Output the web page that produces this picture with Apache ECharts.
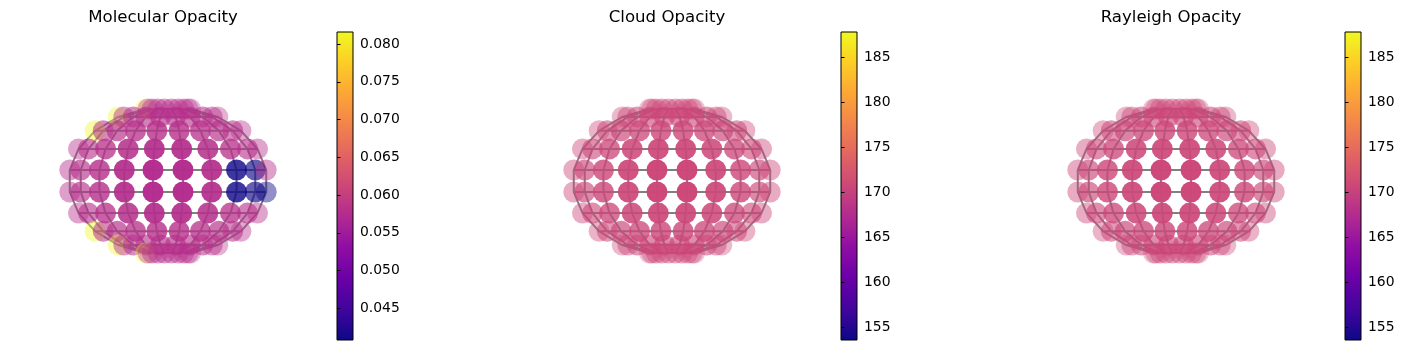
<!DOCTYPE html>
<html>
<head>
<meta charset="utf-8">
<script src="https://cdn.jsdelivr.net/npm/echarts@6/dist/echarts.min.js"></script>
<style>
html,body{margin:0;padding:0;background:#fff;}
#chart{width:1406px;height:350px;}
</style>
</head>
<body>
<div id="chart"></div>
<script>
// ---- data ----
const titles = ['Molecular Opacity', 'Cloud Opacity', 'Rayleigh Opacity'];
// sin(latitude) of each row (top to bottom) and longitude nodes of each column (left to right)
const latNodes = [0.9739, 0.8651, 0.6794, 0.4334, 0.1489, -0.1489, -0.4334, -0.6794, -0.8651, -0.9739];
const lonNodes = [-0.9739, -0.8651, -0.6794, -0.4334, -0.1489, 0.1489, 0.4334, 0.6794, 0.8651, 0.9739];

const molecularValues = [
  [0.0815, 0.0580, 0.0580, 0.0580, 0.0580, 0.0580, 0.0580, 0.0580, 0.0580, 0.0580],
  [0.0815, 0.0580, 0.0580, 0.0580, 0.0580, 0.0580, 0.0580, 0.0580, 0.0580, 0.0580],
  [0.0815, 0.0580, 0.0580, 0.0580, 0.0580, 0.0580, 0.0580, 0.0580, 0.0580, 0.0580],
  [0.0580, 0.0580, 0.0580, 0.0578, 0.0576, 0.0576, 0.0578, 0.0580, 0.0580, 0.0580],
  [0.0580, 0.0580, 0.0578, 0.0576, 0.0575, 0.0575, 0.0576, 0.0410, 0.0410, 0.0580],
  [0.0580, 0.0580, 0.0578, 0.0576, 0.0575, 0.0575, 0.0576, 0.0410, 0.0410, 0.0410],
  [0.0580, 0.0580, 0.0580, 0.0578, 0.0576, 0.0576, 0.0578, 0.0580, 0.0580, 0.0580],
  [0.0815, 0.0580, 0.0580, 0.0580, 0.0580, 0.0580, 0.0580, 0.0580, 0.0580, 0.0580],
  [0.0815, 0.0580, 0.0580, 0.0580, 0.0580, 0.0580, 0.0580, 0.0580, 0.0580, 0.0580],
  [0.0815, 0.0580, 0.0580, 0.0580, 0.0580, 0.0580, 0.0580, 0.0580, 0.0580, 0.0580]
];
const cloudValues = [
  [170.7, 170.7, 170.7, 170.7, 170.7, 170.7, 170.7, 170.7, 170.7, 170.7],
  [170.7, 170.7, 170.7, 170.7, 170.7, 170.7, 170.7, 170.7, 170.7, 170.7],
  [170.7, 170.7, 170.7, 170.7, 170.7, 170.7, 170.7, 170.7, 170.7, 170.7],
  [170.7, 170.7, 170.7, 170.7, 170.7, 170.7, 170.7, 170.7, 170.7, 170.7],
  [170.7, 170.7, 170.7, 170.7, 170.7, 170.7, 170.7, 170.7, 170.7, 170.7],
  [170.7, 170.7, 170.7, 170.7, 170.7, 170.7, 170.7, 170.7, 170.7, 170.7],
  [170.7, 170.7, 170.7, 170.7, 170.7, 170.7, 170.7, 170.7, 170.7, 170.7],
  [170.7, 170.7, 170.7, 170.7, 170.7, 170.7, 170.7, 170.7, 170.7, 170.7],
  [170.7, 170.7, 170.7, 170.7, 170.7, 170.7, 170.7, 170.7, 170.7, 170.7],
  [170.7, 170.7, 170.7, 170.7, 170.7, 170.7, 170.7, 170.7, 170.7, 170.7]
];
const rayleighValues = [
  [170.7, 170.7, 170.7, 170.7, 170.7, 170.7, 170.7, 170.7, 170.7, 170.7],
  [170.7, 170.7, 170.7, 170.7, 170.7, 170.7, 170.7, 170.7, 170.7, 170.7],
  [170.7, 170.7, 170.7, 170.7, 170.7, 170.7, 170.7, 170.7, 170.7, 170.7],
  [170.7, 170.7, 170.7, 170.7, 170.7, 170.7, 170.7, 170.7, 170.7, 170.7],
  [170.7, 170.7, 170.7, 170.7, 170.7, 170.7, 170.7, 170.7, 170.7, 170.7],
  [170.7, 170.7, 170.7, 170.7, 170.7, 170.7, 170.7, 170.7, 170.7, 170.7],
  [170.7, 170.7, 170.7, 170.7, 170.7, 170.7, 170.7, 170.7, 170.7, 170.7],
  [170.7, 170.7, 170.7, 170.7, 170.7, 170.7, 170.7, 170.7, 170.7, 170.7],
  [170.7, 170.7, 170.7, 170.7, 170.7, 170.7, 170.7, 170.7, 170.7, 170.7],
  [170.7, 170.7, 170.7, 170.7, 170.7, 170.7, 170.7, 170.7, 170.7, 170.7]
];
const colorbarMin = [0.0408, 153.56, 153.56];
const colorbarMax = [0.0816, 187.78, 187.78];
const molecularTicks = [0.045, 0.050, 0.055, 0.060, 0.065, 0.070, 0.075, 0.080];
const cloudTicks = [155, 160, 165, 170, 175, 180, 185];
const rayleighTicks = [155, 160, 165, 170, 175, 180, 185];

// ---- styling ----
const plasma = ['#0d0887','#41049d','#6a00a8','#8f0da4','#b12a90','#cc4778','#e16462','#f2844b','#fca636','#fcce25','#f0f921'];
const panelValues = [molecularValues, cloudValues, rayleighValues];
const panelTicks = [molecularTicks, cloudTicks, rayleighTicks];
const tickFmt = [v => v.toFixed(3), v => String(Math.round(v)), v => String(Math.round(v))];
const FONT = 'DejaVu Sans';
const panelStep = 504;
const cx0 = 168, cy = 181, sx = 102, sy = 74, range = 1.1;

const chart = echarts.init(document.getElementById('chart'), null, {renderer: 'canvas'});

const option = {
  animation: false,
  backgroundColor: '#fff',
  title: [], grid: [], xAxis: [], yAxis: [], series: [], visualMap: []
};

for (let p = 0; p < 3; p++) {
  const cx = cx0 + panelStep * p;
  option.title.push({
    text: titles[p], left: 163 + 504 * p, top: 9, textAlign: 'center', padding: 0,
    textStyle: {fontFamily: FONT, fontSize: 16.6, fontWeight: 'normal', color: '#000'}
  });
  // scatter grid
  option.grid.push({left: cx - sx * range, top: cy - sy * range, width: 2 * sx * range, height: 2 * sy * range, show: false});
  const g = option.grid.length - 1;
  option.xAxis.push({type: 'value', gridIndex: g, min: -range, max: range, show: false});
  option.yAxis.push({type: 'value', gridIndex: g, min: -range, max: range, show: false});

  const pts = [];
  const lines = [];
  for (let i = 0; i < latNodes.length; i++) {
    const y = latNodes[i];
    const c = Math.sqrt(1 - y * y);
    const row = [];
    for (let j = 0; j < lonNodes.length; j++) {
      const x = c * lonNodes[j];
      const mu = Math.sqrt(Math.max(0, 1 - x * x - y * y));
      row.push([x, y]);
      pts.push({value: [x, y, panelValues[p][i][j]], itemStyle: {opacity: 0.3 + 0.7 * mu}});
    }
    lines.push({coords: row});
  }
  for (let j = 0; j < lonNodes.length; j++) {
    const col = latNodes.map(y => [Math.sqrt(1 - y * y) * lonNodes[j], y]);
    lines.push({coords: col});
  }
  option.series.push({
    type: 'lines', coordinateSystem: 'cartesian2d', xAxisIndex: g, yAxisIndex: g,
    polyline: true, silent: true, z: 1,
    lineStyle: {color: '#808080', width: 2, opacity: 1},
    data: lines
  });
  option.series.push({
    type: 'scatter', xAxisIndex: g, yAxisIndex: g, symbol: 'circle', symbolSize: 21,
    silent: true, z: 2, clip: false,
    data: pts
  });
  option.visualMap.push({
    type: 'continuous', show: false, min: colorbarMin[p], max: colorbarMax[p], dimension: 2,
    seriesIndex: option.series.length - 1, inRange: {color: plasma}
  });

  // colorbar grid
  const stops = plasma.map((col, k) => ({offset: k / (plasma.length - 1), color: col}));
  option.grid.push({
    left: 337 + 504 * p, top: 32, width: 16, height: 308, show: true,
    backgroundColor: new echarts.graphic.LinearGradient(0, 1, 0, 0, stops),
    borderColor: '#000', borderWidth: 1
  });
  const gc = option.grid.length - 1;
  option.xAxis.push({type: 'value', gridIndex: gc, min: 0, max: 1, show: false});
  option.yAxis.push({
    type: 'value', gridIndex: gc, position: 'right', min: colorbarMin[p], max: colorbarMax[p],
    axisLine: {show: false}, splitLine: {show: false},
    axisTick: {show: true, inside: false, length: 3.5, lineStyle: {color: '#000', width: 1}, customValues: panelTicks[p]},
    axisLabel: {show: true, customValues: panelTicks[p], formatter: tickFmt[p], color: '#000',
      fontFamily: FONT, fontSize: 13.9, margin: 7}
  });
}

chart.setOption(option);
</script>
</body>
</html>
